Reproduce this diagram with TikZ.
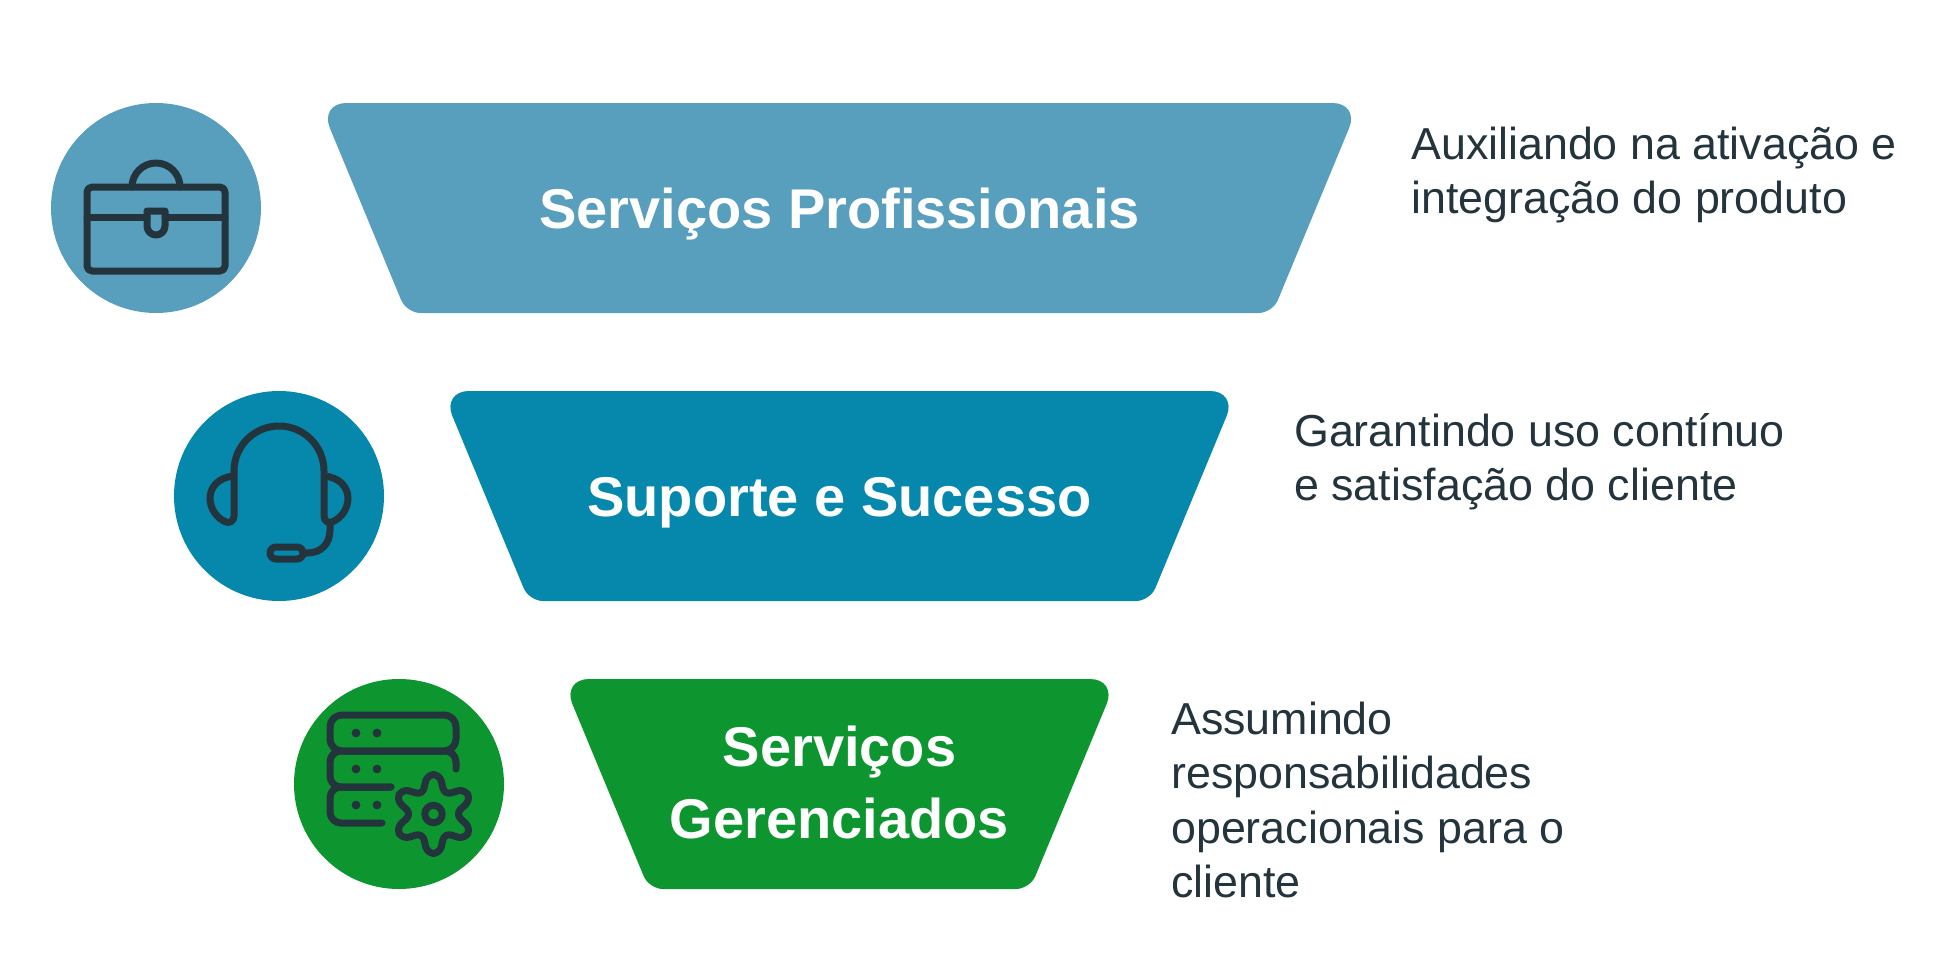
\documentclass[tikz,border=0pt]{standalone}
\usepackage{fontspec}
\setmainfont{Liberation Sans}
\usetikzlibrary{positioning,backgrounds}
\definecolor{tierblue}{HTML}{589EBD}
\definecolor{tierteal}{HTML}{0588AB}
\definecolor{tiergreen}{HTML}{0D962F}
\definecolor{inkdark}{HTML}{24343D}

\begin{document}
\begin{tikzpicture}[
  x=1pt, y=-1pt,
  node distance=78pt and 60pt,
  tier/.style={inner sep=0pt, outer sep=0pt, minimum height=210pt, text=white, align=center, font=\fontsize{56}{72}\selectfont\bfseries},
  single/.style={text height=40pt, text depth=0pt},
  badge/.style={circle, inner sep=0pt, outer sep=0pt, minimum size=210pt},
  note/.style={anchor=north west, align=left, inner sep=0pt, text=inkdark, font=\fontsize{44.8}{54.3}\selectfont},
  icon/.style={draw=inkdark, line width=7pt, line cap=round, line join=round}
]
\useasboundingbox (0,0) rectangle (1958,969);
\node[tier, single, minimum width=1040pt] (prof) at (839.5,208) {Serviços Profissionais};
\node[tier, single, minimum width=795pt, below=of prof] (supp) {Suporte e Sucesso};
\node[tier, text depth=4pt, minimum width=555pt, below=of supp] (mana) {Serviços\\Gerenciados};

\begin{pgfonlayer}{background}
  \foreach \tiername/\tiertint in {prof/tierblue, supp/tierteal, mana/tiergreen} {
    \fill[\tiertint, rounded corners=27pt] (\tiername.north west) -- (\tiername.north east)
      [rounded corners=14pt] -- ([xshift=-87pt]\tiername.south east) -- ([xshift=87pt]\tiername.south west)
      [rounded corners=27pt] -- cycle;
  }
\end{pgfonlayer}

\node[badge, fill=tierblue] (profdot) at ([xshift=-683.5pt]prof.center) {};
\node[badge, fill=tierteal] (suppdot) at ([xshift=-560.5pt]supp.center) {};
\node[badge, fill=tiergreen] (manadot) at ([xshift=-440.5pt]mana.center) {};

\node[note] (profnote) at (1411,126.5) {Auxiliando na ativação e\\integração do produto};
\node[note] (suppnote) at (1294,413.5) {Garantindo uso contínuo\\e satisfação do cliente};
\node[note] (mananote) at (1171,702) {Assumindo\\responsabilidades\\operacionais para o\\cliente};

\begin{scope}[shift={(profdot.center)}]
  \draw[icon, rounded corners=5pt] (-69,-21) rectangle (69,63);
  \draw[icon] (-24,-21) arc[start angle=180, end angle=0, radius=24pt];
  \draw[icon] (-69,9) -- (-9,9);
  \draw[icon] (9,9) -- (69,9);
  \draw[icon] (-9,3) -- (9,3) -- (9,18) arc[start angle=0, end angle=-180, radius=9pt] -- cycle;
\end{scope}

\begin{scope}[shift={(suppdot.center)}]
  \draw[icon] (-45,-25) arc[start angle=180, end angle=0, radius=45pt] -- (45,20) .. controls (45,26) and (50,27) .. (53,26) .. controls (63,22) and (69,12) .. (69,2) .. controls (69,-9) and (60,-19) .. (45,-20);
  \draw[icon] (-45,-25) -- (-45,20) .. controls (-45,26) and (-50,27) .. (-53,26) .. controls (-63,22) and (-69,12) .. (-69,2) .. controls (-69,-9) and (-60,-19) .. (-45,-20);
  \draw[icon] (51,27) -- (51,34) .. controls (51,48) and (42,57) .. (28,57) -- (24,57);
  \draw[icon, rounded corners=6pt] (-9,51) rectangle (24,63);
\end{scope}

\begin{scope}[shift={(manadot.center)}]
  \draw[icon, rounded corners=12pt] (-69,-69) rectangle (57,-33);
  \draw[icon, rounded corners=11pt] (57,-15) -- (57,-33) -- (-69,-33) -- (-69,3) -- (-8,3);
  \draw[icon, rounded corners=11pt] (-8,3) -- (-69,3) -- (-69,39) -- (-17,39);
  \foreach \rowy in {-51,-15,21} {
    \fill[inkdark] (-43,\rowy) circle (4.4pt);
    \fill[inkdark] (-22,\rowy) circle (4.4pt);
  }
  \draw[icon] (34.5,30) circle (8.7pt);
  \draw[icon, rounded corners=7pt, shift={(34.5,30)}] (81:40)
    \foreach \lobe in {90,150,210,270,330} { -- (\lobe+9:40) -- (\lobe+30:22) -- (\lobe+51:40) }
    -- (399:40) -- (420:22) -- cycle;
\end{scope}
\end{tikzpicture}
\end{document}
